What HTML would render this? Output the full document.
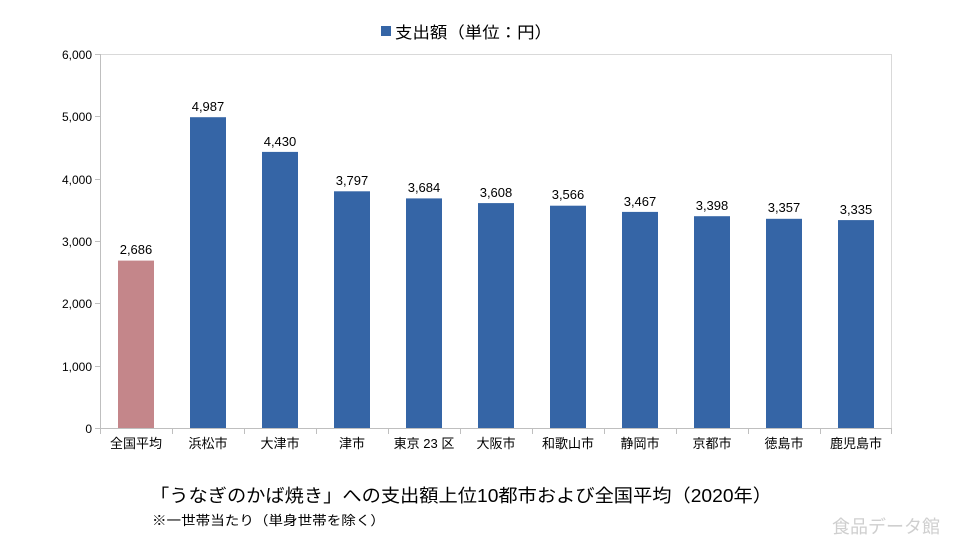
<!DOCTYPE html>
<html><head><meta charset="utf-8"><style>
body{margin:0;background:#fff;}
svg{display:block;font-family:"Liberation Sans","Noto Sans CJK JP",sans-serif;}
</style></head><body>
<svg width="964" height="548" xmlns="http://www.w3.org/2000/svg">
<rect x="381" y="26" width="10" height="10" fill="#3565a6"/>
<text x="395" y="38" font-size="16" fill="#000" textLength="157" lengthAdjust="spacingAndGlyphs">支出額（単位：円）</text>
<g stroke="#d9d9d9" stroke-width="1">
<line x1="100" y1="54.5" x2="892" y2="54.5"/>
<line x1="891.5" y1="54" x2="891.5" y2="428"/>
</g>
<g stroke="#bfbfbf" stroke-width="1">
<line x1="100.5" y1="54" x2="100.5" y2="428"/>
<line x1="100" y1="428.5" x2="892" y2="428.5"/>
<line x1="95" y1="54.5" x2="100" y2="54.5"/><line x1="95" y1="116.5" x2="100" y2="116.5"/><line x1="95" y1="179.5" x2="100" y2="179.5"/><line x1="95" y1="241.5" x2="100" y2="241.5"/><line x1="95" y1="303.5" x2="100" y2="303.5"/><line x1="95" y1="366.5" x2="100" y2="366.5"/><line x1="95" y1="428.5" x2="100" y2="428.5"/>
<line x1="100.5" y1="428" x2="100.5" y2="434"/><line x1="172.5" y1="428" x2="172.5" y2="434"/><line x1="244.5" y1="428" x2="244.5" y2="434"/><line x1="316.5" y1="428" x2="316.5" y2="434"/><line x1="388.5" y1="428" x2="388.5" y2="434"/><line x1="460.5" y1="428" x2="460.5" y2="434"/><line x1="532.5" y1="428" x2="532.5" y2="434"/><line x1="604.5" y1="428" x2="604.5" y2="434"/><line x1="676.5" y1="428" x2="676.5" y2="434"/><line x1="748.5" y1="428" x2="748.5" y2="434"/><line x1="820.5" y1="428" x2="820.5" y2="434"/><line x1="891.5" y1="428" x2="891.5" y2="434"/>
</g>
<g font-size="12" fill="#000" text-anchor="end">
<text x="92" y="59">6,000</text><text x="92" y="121">5,000</text><text x="92" y="184">4,000</text><text x="92" y="246">3,000</text><text x="92" y="308">2,000</text><text x="92" y="371">1,000</text><text x="92" y="433">0</text>
</g>
<rect x="118" y="260.6" width="36" height="167.4" fill="#c4868a"/>
<g fill="#3565a6">
<rect x="190" y="117.2" width="36" height="310.8"/>
<rect x="262" y="151.9" width="36" height="276.1"/>
<rect x="334" y="191.3" width="36" height="236.7"/>
<rect x="406" y="198.4" width="36" height="229.6"/>
<rect x="478" y="203.1" width="36" height="224.9"/>
<rect x="550" y="205.7" width="36" height="222.3"/>
<rect x="622" y="211.9" width="36" height="216.1"/>
<rect x="694" y="216.2" width="36" height="211.8"/>
<rect x="766" y="218.8" width="36" height="209.2"/>
<rect x="838" y="220.1" width="36" height="207.9"/>
</g>
<g font-size="13" fill="#000" text-anchor="middle">
<text x="136" y="254">2,686</text><text x="208" y="111">4,987</text><text x="280" y="146">4,430</text><text x="352" y="185">3,797</text><text x="424" y="192">3,684</text><text x="496" y="197">3,608</text><text x="568" y="199">3,566</text><text x="640" y="206">3,467</text><text x="712" y="210">3,398</text><text x="784" y="212">3,357</text><text x="856" y="214">3,335</text>
</g>
<g font-size="13" fill="#000" text-anchor="middle">
<text x="136" y="448">全国平均</text><text x="208" y="448">浜松市</text><text x="280" y="448">大津市</text><text x="352" y="448">津市</text><text x="424" y="448">東京 23 区</text><text x="496" y="448">大阪市</text><text x="568" y="448">和歌山市</text><text x="640" y="448">静岡市</text><text x="712" y="448">京都市</text><text x="784" y="448">徳島市</text><text x="856" y="448">鹿児島市</text>
</g>
<text x="150" y="502" font-size="18" fill="#000" textLength="622" lengthAdjust="spacingAndGlyphs">「うなぎのかば焼き」への支出額上位10都市および全国平均（2020年）</text>
<text x="152" y="525" font-size="13" fill="#000" textLength="233" lengthAdjust="spacingAndGlyphs">※一世帯当たり（単身世帯を除く）</text>
<text x="832" y="533" font-size="18" fill="#cfcfcf">食品データ館</text>
</svg>
</body></html>
